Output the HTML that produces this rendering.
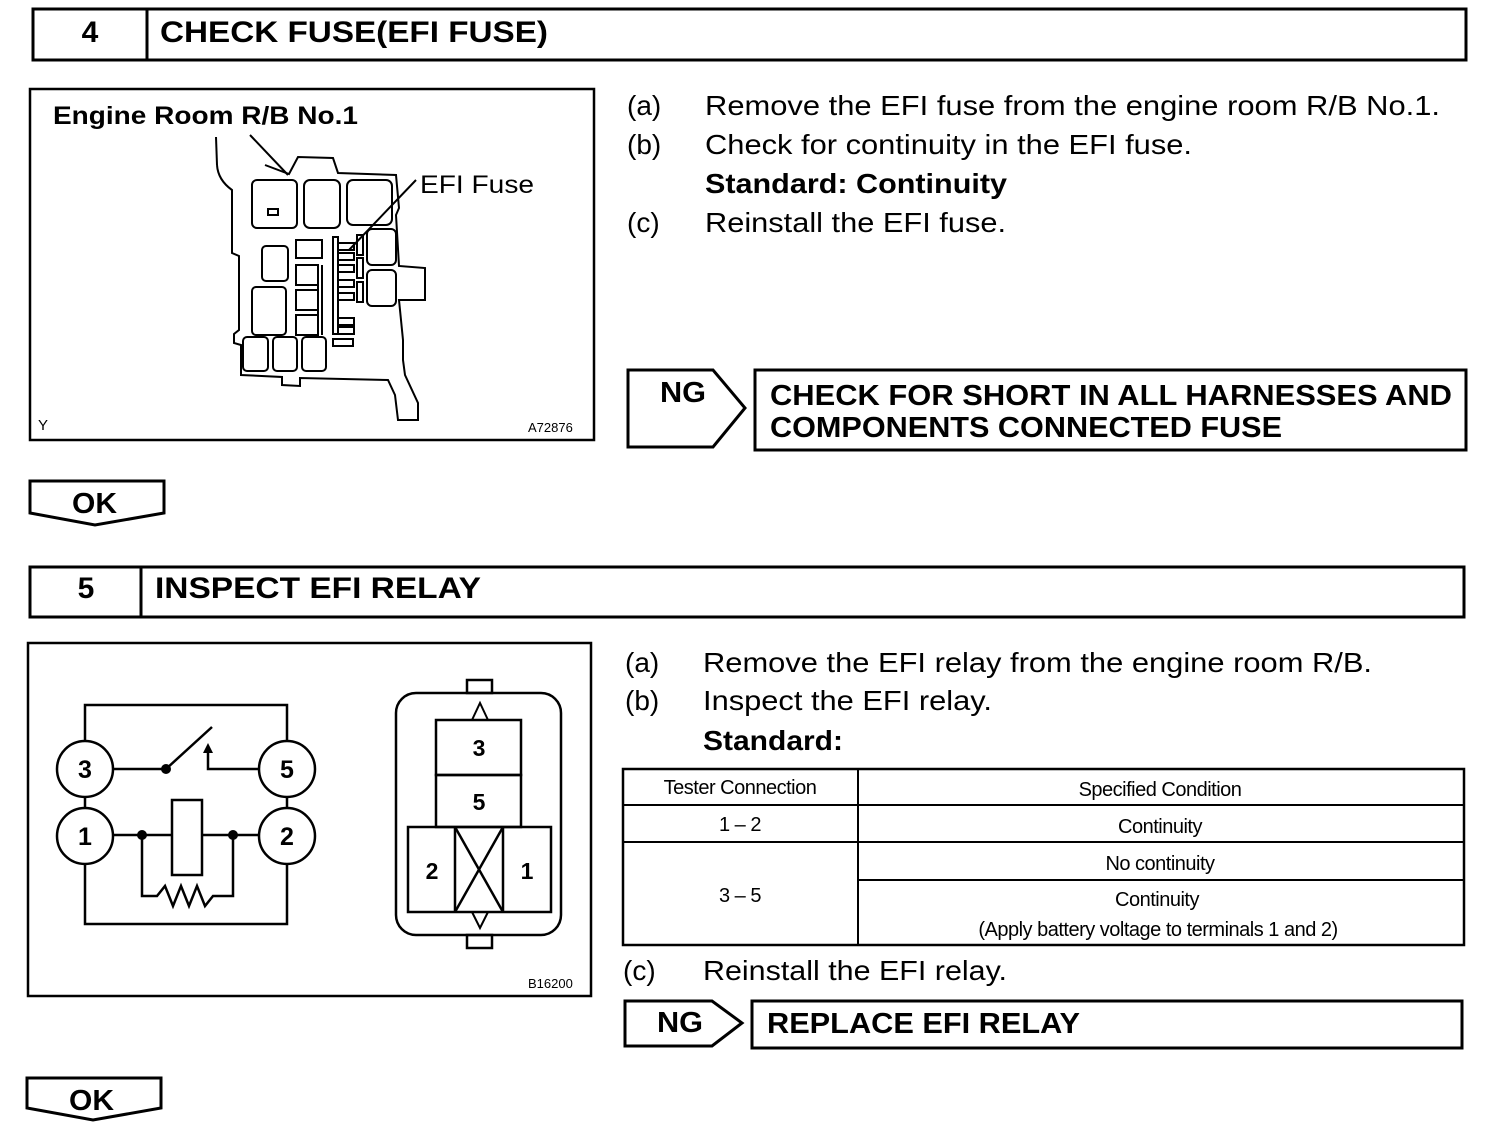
<!DOCTYPE html>
<html><head><meta charset="utf-8"><style>
html,body{margin:0;padding:0;background:#fff}
svg{display:block}
text{font-family:"Liberation Sans",Arial,sans-serif;fill:#000}
</style></head><body>
<svg width="1504" height="1142" viewBox="0 0 1504 1142" xmlns="http://www.w3.org/2000/svg">
<g fill="none" stroke="#000" stroke-width="3">
<rect x="33" y="9" width="1433" height="51"/>
<line x1="147" y1="9" x2="147" y2="60"/>
<rect x="30" y="89" width="564" height="351" stroke-width="2.5"/>
<path d="M628 370 H713 L745 408 L713 447 H628 Z"/>
<rect x="755" y="370" width="711" height="80"/>
<path d="M30 481 H164 V513 L95 525 L30 513 Z"/>
<rect x="30" y="567" width="1434" height="50"/>
<line x1="141" y1="567" x2="141" y2="617"/>
<rect x="28" y="643" width="563" height="353" stroke-width="2.5"/>
<rect x="623" y="769" width="841" height="176" stroke-width="2.5"/>
<line x1="858" y1="769" x2="858" y2="945" stroke-width="2"/>
<line x1="623" y1="805" x2="1464" y2="805" stroke-width="2"/>
<line x1="623" y1="842" x2="1464" y2="842" stroke-width="2"/>
<line x1="858" y1="880" x2="1464" y2="880" stroke-width="2"/>
<path d="M625 1001 H712 L742 1023 L712 1046 H625 Z"/>
<rect x="752" y="1001" width="710" height="47"/>
<path d="M27 1078 H161 V1108 L93 1120 L27 1108 Z"/>
</g>

<g fill="none" stroke="#000" stroke-width="2">
<line x1="216" y1="137" x2="217" y2="165"/>
<path d="M217 165 Q218 180 232 190 V253 L239 256 V330 L234 334 V343 L241 345 V375 L282 377 V385 L300 386 L300 378 L388 380 L395 395 L398 420 H418 V403 L405 375 L403 360 L403 340 L399 300 L425 300 V268 L399 266 L396 215 L399 208 L396 175 L338 173 L333 158 L298 157 L289 174 L265 165"/>
<line x1="250" y1="135" x2="288" y2="175"/>
<rect x="252" y="180" width="45" height="48" rx="5"/>
<rect x="268" y="209" width="10" height="6"/>
<rect x="304" y="180" width="36" height="48" rx="6"/>
<rect x="347" y="180" width="45" height="45" rx="6"/>
<rect x="262" y="246" width="26" height="35" rx="4"/>
<rect x="296" y="240" width="26" height="18"/>
<rect x="296" y="265" width="22" height="20"/>
<rect x="296" y="290" width="22" height="20"/>
<rect x="296" y="315" width="22" height="20"/>
<line x1="318" y1="265" x2="318" y2="335"/><line x1="322" y1="265" x2="322" y2="335"/>
<rect x="252" y="287" width="34" height="48" rx="4"/>
<rect x="243" y="337" width="25" height="34" rx="4"/>
<rect x="273" y="337" width="24" height="34" rx="4"/>
<rect x="302" y="337" width="24" height="34" rx="4"/>
<rect x="333" y="237" width="5" height="97"/>
<rect x="338" y="243" width="16" height="7"/><rect x="338" y="253" width="16" height="7"/>
<rect x="338" y="265" width="16" height="7"/><rect x="338" y="280" width="16" height="7"/>
<rect x="338" y="293" width="16" height="7"/><rect x="338" y="318" width="16" height="7"/><rect x="338" y="327" width="16" height="7"/>
<rect x="333" y="339" width="20" height="7"/>
<rect x="357" y="235" width="6" height="20"/><rect x="357" y="258" width="6" height="20"/><rect x="357" y="282" width="6" height="20"/>
<rect x="367" y="229" width="29" height="36" rx="5"/>
<rect x="367" y="270" width="29" height="36" rx="5"/>
<line x1="349" y1="250" x2="416" y2="180"/>
</g>

<g fill="none" stroke="#000" stroke-width="2.5">
<path d="M85 741 V705 H287 V741"/>
<path d="M85 864 V924 H287 V864"/>
<line x1="85" y1="797" x2="85" y2="808"/><line x1="287" y1="797" x2="287" y2="808"/>
<circle cx="85" cy="769" r="28" fill="#fff"/>
<circle cx="287" cy="769" r="28" fill="#fff"/>
<circle cx="85" cy="836" r="28" fill="#fff"/>
<circle cx="287" cy="836" r="28" fill="#fff"/>
<line x1="113" y1="769" x2="166" y2="769"/>
<line x1="166" y1="769" x2="212" y2="727"/>
<path d="M259 769 H208 V752"/>
<line x1="113" y1="835" x2="172" y2="835"/>
<line x1="202" y1="835" x2="259" y2="835"/>
<rect x="172" y="800" width="30" height="75"/>
<path d="M142 835 V896 H157 L165 886 L173 906 L181 886 L189 906 L197 886 L205 906 L213 896 H233 V835"/>
<rect x="396" y="693" width="165" height="242" rx="20"/>
<rect x="467" y="680" width="25" height="13"/>
<rect x="467" y="935" width="25" height="13"/>
<rect x="436" y="720" width="85" height="55"/>
<rect x="436" y="775" width="85" height="52"/>
<rect x="408" y="827" width="143" height="85"/>
<line x1="455" y1="827" x2="455" y2="912"/><line x1="503" y1="827" x2="503" y2="912"/>
<line x1="455" y1="827" x2="503" y2="912"/><line x1="503" y1="827" x2="455" y2="912"/>
<path d="M472 720 L480 703 L488 720" stroke-width="2"/>
<path d="M472 912 L480 928 L488 912" stroke-width="2"/>
</g>
<circle cx="166" cy="769" r="5"/><circle cx="142" cy="835" r="5"/><circle cx="233" cy="835" r="5"/>
<path d="M203 753 L208 743 L213 753 Z"/>

<g font-weight="bold" font-size="30">
<text x="90" y="42" text-anchor="middle">4</text>
<text x="160" y="42" textLength="388" lengthAdjust="spacingAndGlyphs">CHECK FUSE(EFI FUSE)</text>
<text x="86" y="598" text-anchor="middle">5</text>
<text x="155" y="598" textLength="326" lengthAdjust="spacingAndGlyphs">INSPECT EFI RELAY</text>
</g>
<g font-weight="bold" font-size="29">
<text x="660" y="402" textLength="46" lengthAdjust="spacingAndGlyphs">NG</text>
<text x="770" y="405" textLength="682" lengthAdjust="spacingAndGlyphs">CHECK FOR SHORT IN ALL HARNESSES AND</text>
<text x="770" y="437" textLength="512" lengthAdjust="spacingAndGlyphs">COMPONENTS CONNECTED FUSE</text>
<text x="72" y="513" textLength="45" lengthAdjust="spacingAndGlyphs">OK</text>
<text x="657" y="1032" textLength="46" lengthAdjust="spacingAndGlyphs">NG</text>
<text x="767" y="1033" textLength="313" lengthAdjust="spacingAndGlyphs">REPLACE EFI RELAY</text>
<text x="69" y="1110" textLength="45" lengthAdjust="spacingAndGlyphs">OK</text>
</g>
<text x="53" y="124" font-size="25" font-weight="bold" textLength="305" lengthAdjust="spacingAndGlyphs">Engine Room R/B No.1</text>
<text x="420" y="193" font-size="25" textLength="114" lengthAdjust="spacingAndGlyphs">EFI Fuse</text>
<text x="38" y="430" font-size="15">Y</text>
<text x="528" y="432" font-size="13">A72876</text>
<text x="528" y="988" font-size="13">B16200</text>
<g font-size="25" font-weight="bold">
<text x="85" y="778" text-anchor="middle">3</text>
<text x="287" y="778" text-anchor="middle">5</text>
<text x="85" y="845" text-anchor="middle">1</text>
<text x="287" y="845" text-anchor="middle">2</text>
<text x="479" y="756" text-anchor="middle" font-size="23">3</text>
<text x="479" y="810" text-anchor="middle" font-size="23">5</text>
<text x="432" y="879" text-anchor="middle" font-size="23">2</text>
<text x="527" y="879" text-anchor="middle" font-size="23">1</text>
</g>
<g font-size="28" lengthAdjust="spacingAndGlyphs">
<text x="627" y="115">(a)</text><text x="705" y="115" textLength="735" lengthAdjust="spacingAndGlyphs">Remove the EFI fuse from the engine room R/B No.1.</text>
<text x="627" y="154">(b)</text><text x="705" y="154" textLength="487" lengthAdjust="spacingAndGlyphs">Check for continuity in the EFI fuse.</text>
<text x="705" y="193" font-weight="bold" textLength="302" lengthAdjust="spacingAndGlyphs">Standard: Continuity</text>
<text x="627" y="232">(c)</text><text x="705" y="232" textLength="301" lengthAdjust="spacingAndGlyphs">Reinstall the EFI fuse.</text>
<text x="625" y="672">(a)</text><text x="703" y="672" textLength="669" lengthAdjust="spacingAndGlyphs">Remove the EFI relay from the engine room R/B.</text>
<text x="625" y="710">(b)</text><text x="703" y="710" textLength="289" lengthAdjust="spacingAndGlyphs">Inspect the EFI relay.</text>
<text x="703" y="750" font-weight="bold" textLength="140" lengthAdjust="spacingAndGlyphs">Standard:</text>
<text x="623" y="980">(c)</text><text x="703" y="980" textLength="304" lengthAdjust="spacingAndGlyphs">Reinstall the EFI relay.</text>
</g>
<g font-size="20" text-anchor="middle" letter-spacing="-0.5">
<text x="740" y="794">Tester Connection</text>
<text x="1160" y="796">Specified Condition</text>
<text x="740" y="831">1 – 2</text>
<text x="1160" y="833">Continuity</text>
<text x="1160" y="870">No continuity</text>
<text x="740" y="902">3 – 5</text>
<text x="1157" y="906">Continuity</text>
<text x="1158" y="936">(Apply battery voltage to terminals 1 and 2)</text>
</g>
</svg>
</body></html>
